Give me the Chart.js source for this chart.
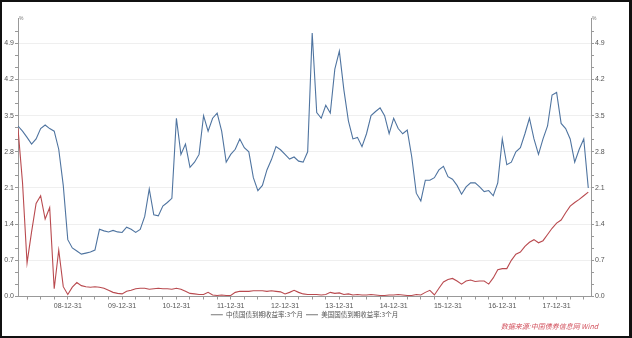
<!DOCTYPE html>
<html>
<head>
<meta charset="utf-8">
<script src="https://cdn.jsdelivr.net/npm/chart.js@4/dist/chart.umd.min.js"></script>
<style>
    body { margin: 0; background: #fff; }
    #frame { position: relative; width: 627px; height: 334px; border: solid #111; border-width: 2px 3px 2px 2px; background: #fff; }
</style>
</head>
<body>
<div id="frame"><canvas id="myChart"></canvas></div>
<script>
// month-end values, 2008-01-31 ... 2018-07-31
const chinaYield = [
    3.30, 3.20, 3.08, 2.95, 3.05, 3.25, 3.32, 3.25, 3.20, 2.85, 2.15, 1.10,
    0.94, 0.88, 0.82, 0.84, 0.86, 0.90, 1.30, 1.27, 1.25, 1.28, 1.25, 1.24,
    1.34, 1.30, 1.24, 1.30, 1.55, 2.08, 1.58, 1.56, 1.75, 1.82, 1.90, 3.45,
    2.75, 2.95, 2.50, 2.60, 2.75, 3.50, 3.20, 3.45, 3.55, 3.20, 2.60, 2.75,
    2.85, 3.05, 2.88, 2.80, 2.30, 2.05, 2.15, 2.45, 2.65, 2.90, 2.84, 2.75,
    2.66, 2.70, 2.62, 2.60, 2.80, 5.10, 3.56, 3.45, 3.70, 3.55, 4.40, 4.75,
    4.00, 3.40, 3.05, 3.08, 2.90, 3.15, 3.50, 3.58, 3.65, 3.50, 3.15, 3.45,
    3.25, 3.15, 3.22, 2.70, 2.00, 1.85, 2.25, 2.25, 2.30, 2.45, 2.52, 2.32,
    2.27, 2.15, 1.98, 2.12, 2.20, 2.20, 2.12, 2.03, 2.05, 1.95, 2.20, 3.05,
    2.55, 2.60, 2.80, 2.88, 3.15, 3.45, 3.05, 2.75, 3.05, 3.30, 3.90, 3.95,
    3.35, 3.25, 3.05, 2.60, 2.85, 3.05, 2.10
];
const usYield = [
    3.25, 2.20, 0.65, 1.25, 1.80, 1.95, 1.50, 1.72, 0.15, 0.90, 0.19, 0.04,
    0.18, 0.27, 0.21, 0.19, 0.18, 0.19, 0.18, 0.16, 0.12, 0.08, 0.06, 0.05,
    0.10, 0.12, 0.15, 0.16, 0.16, 0.14, 0.15, 0.16, 0.15, 0.15, 0.14, 0.16,
    0.14, 0.10, 0.06, 0.05, 0.04, 0.04, 0.08, 0.03, 0.02, 0.03, 0.02, 0.02,
    0.08, 0.10, 0.10, 0.10, 0.11, 0.11, 0.11, 0.10, 0.11, 0.10, 0.09, 0.05,
    0.08, 0.12, 0.08, 0.05, 0.04, 0.04, 0.04, 0.03, 0.04, 0.08, 0.06, 0.07,
    0.04, 0.05, 0.03, 0.04, 0.03, 0.03, 0.04, 0.03, 0.02, 0.02, 0.03, 0.03,
    0.04, 0.03, 0.02, 0.02, 0.04, 0.03, 0.08, 0.12, 0.03, 0.16, 0.28, 0.33,
    0.35, 0.30, 0.24, 0.30, 0.32, 0.29, 0.30, 0.30, 0.24, 0.36, 0.52, 0.54,
    0.54, 0.70, 0.82, 0.86, 0.97, 1.05, 1.10, 1.04, 1.08, 1.20, 1.32, 1.42,
    1.48, 1.62, 1.75, 1.82, 1.88, 1.95, 2.02
];
const yearEndLabels = ['08-12-31', '09-12-31', '10-12-31', '11-12-31', '12-12-31',
    '13-12-31', '14-12-31', '15-12-31', '16-12-31', '17-12-31'];
const yTickLabels = ['0.0', '0.7', '1.4', '2.1', '2.8', '3.5', '4.2', '4.9'];
const seriesNames = ['中债国债到期收益率:3个月', '美国国债到期收益率:3个月'];
const sourceText = '数据来源:中国债券信息网 Wind';

const tickFont = { family: 'Liberation Sans, Arial, sans-serif', size: 7 };
const cjkFont = 'Noto Sans CJK SC, sans-serif';

function toPoints(arr) {
    return arr.map((v, i) => ({ x: i, y: v }));
}

function yTicks(scale) {
    var t = [];
    for (var i = 0; i < yTickLabels.length * 3 - 1; i++) {
        t.push({ value: i * 0.7 / 3 });
    }
    scale.ticks = t;
}

function yAxis(side, width) {
    return {
        type: 'linear',
        position: side,
        min: 0,
        max: 5.39,
        afterBuildTicks: yTicks,
        afterFit: scale => { scale.width = width; },
        border: { color: '#999' },
        grid: {
            drawOnChartArea: side == 'left',
            color: ctx => (ctx.index % 3 == 0 && ctx.index > 0 ? '#efefef' : 'rgba(0,0,0,0)'),
            tickColor: '#999',
            tickLength: 3
        },
        ticks: {
            autoSkip: false,
            padding: 1,
            color: '#555',
            font: tickFont,
            callback: (value, index) => (index % 3 == 0 ? yTickLabels[index / 3] : '')
        }
    };
}

// small source note and unit marks
const extras = {
    id: 'extras',
    afterDraw(chart) {
        const ctx = chart.ctx;
        const area = chart.chartArea;
        ctx.save();
        ctx.fillStyle = '#d2505c';
        ctx.font = 'italic 7px ' + cjkFont;
        ctx.textAlign = 'right';
        ctx.textBaseline = 'middle';
        ctx.fillText(sourceText, area.right + 7, chart.height - 10);
        ctx.fillStyle = '#777';
        ctx.font = '5px ' + tickFont.family;
        ctx.textAlign = 'left';
        ctx.fillText('%', area.left + 1, area.top + 1);
        ctx.fillText('%', area.right + 1, area.top + 1);
        ctx.restore();
    }
};

var ctx = document.getElementById('myChart').getContext('2d');
var myChart = new Chart(ctx, {
    type: 'line',
    data: {
        datasets: [{
            label: seriesNames[0],
            data: toPoints(chinaYield),
            borderColor: '#4f74a0',
            backgroundColor: '#4f74a0',
            borderWidth: 1.1,
            pointRadius: 0,
            tension: 0
        }, {
            label: seriesNames[1],
            data: toPoints(usYield),
            borderColor: '#b94a4f',
            backgroundColor: '#b94a4f',
            borderWidth: 1.1,
            pointRadius: 0,
            tension: 0
        }]
    },
    options: {
        responsive: true,
        maintainAspectRatio: false,
        animation: false,
        layout: { padding: { top: 16, bottom: 8 } },
        scales: {
            x: {
                type: 'linear',
                min: 0,
                max: 126.6,
                afterBuildTicks: scale => {
                    var t = [];
                    for (var i = 2; i <= 126; i += 3) t.push({ value: i });
                    scale.ticks = t;
                },
                afterFit: scale => { scale.height = 12; },
                border: { color: '#999' },
                grid: { drawOnChartArea: false, tickColor: '#999', tickLength: 3 },
                ticks: {
                    autoSkip: false,
                    maxRotation: 0,
                    padding: 2,
                    color: '#555',
                    font: tickFont,
                    callback: value => (value % 12 == 11 ? yearEndLabels[(value - 11) / 12] : '')
                }
            },
            y: yAxis('left', 16),
            y2: yAxis('right', 38)
        },
        plugins: {
            legend: {
                position: 'bottom',
                fullSize: false,
                labels: {
                    usePointStyle: true,
                    pointStyle: 'line',
                    pointStyleWidth: 12,
                    padding: 3,
                    color: '#555',
                    font: { family: cjkFont, size: 6.5 },
                    generateLabels: chart => Chart.defaults.plugins.legend.labels.generateLabels(chart)
                        .map(item => Object.assign(item, { strokeStyle: '#777', lineWidth: 1 }))
                }
            },
            tooltip: { enabled: false }
        }
    },
    plugins: [extras]
});
</script>
</body>
</html>
